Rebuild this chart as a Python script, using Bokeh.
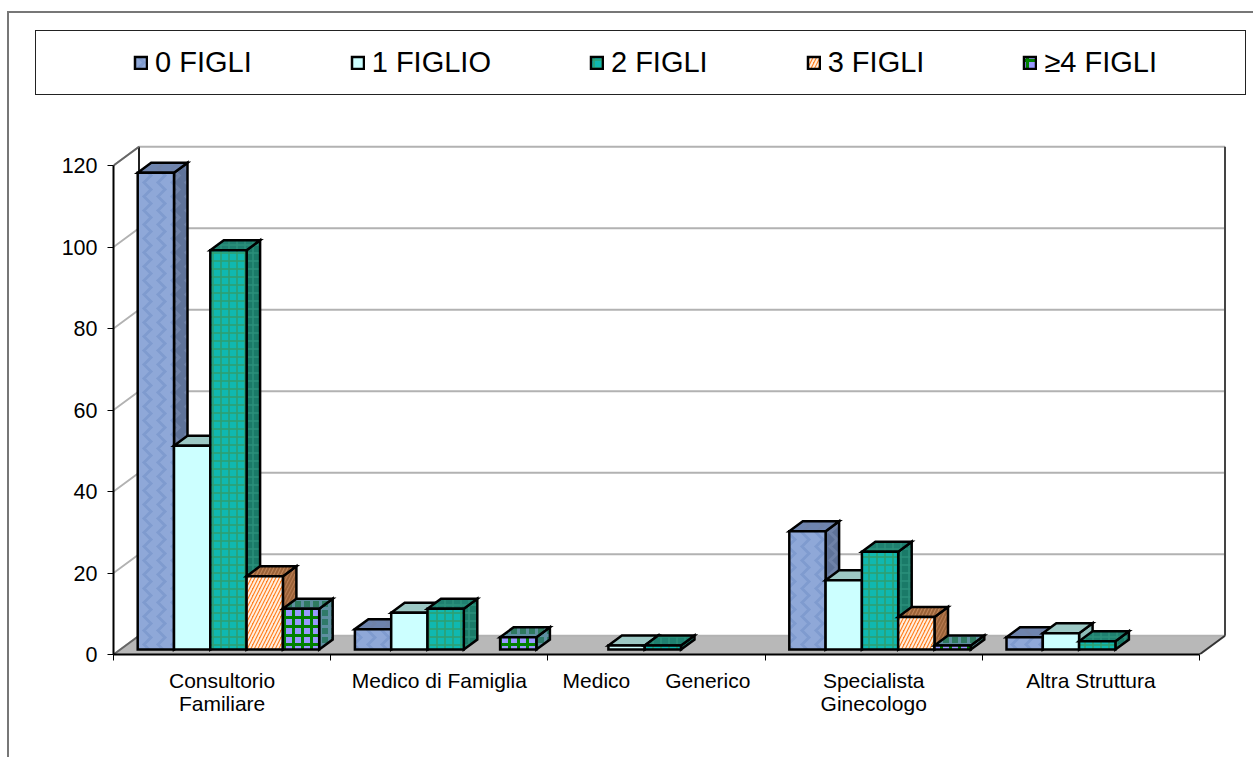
from bokeh.plotting import figure
from bokeh.models import Range1d, FixedTicker, Legend, LegendItem, InlineStyleSheet
from bokeh.embed import file_html
from bokeh.resources import INLINE

categories = ["Consultorio\nFamiliare", "Medico di Famiglia", "Medico\u00a0\u00a0\u00a0\u00a0\u00a0\u00a0Generico", "Specialista\nGinecologo", "Altra Struttura"]
series_names = ["0 FIGLI", "1 FIGLIO", "2 FIGLI", "3 FIGLI", "\u22654 FIGLI"]
figli_0 = [117, 5, 0, 29, 3]
figli_1 = [50, 9, 1, 17, 4]
figli_2 = [98, 10, 1, 24, 2]
figli_3 = [18, 0, 0, 8, 0]
figli_4 = [10, 3, 0, 1, 0]
y_ticks = [0, 20, 40, 60, 80, 100, 120]

all_series = [figli_0, figli_1, figli_2, figli_3, figli_4]
styles = [
    dict(front="#8FA8D8", side="#5F7399", top="#6E84AE", hatch="vertical_wave", hc="#7F9BCF", hs=14, hw=3, shc="#6F82A8"),
    dict(front="#CCFFFF", side="#8FBDB9", top="#9CC8C4", hatch=None, hc=None, hs=None, hw=None, shc=None),
    dict(front="#10B8B0", side="#1A7A68", top="#1F8070", hatch="cross", hc="#2E9E70", hs=8, hw=1.5, shc="#2A8F7A"),
    dict(front="#FF7F20", side="#B87A50", top="#C08558", hatch="right_diagonal_line", hc="#FFEFE0", hs=7, hw=2, shc="#9A6238"),
    dict(front="#9999FF", side="#2F7A68", top="#2F7A60", hatch="cross", hc="#008000", hs=9, hw=3, shc="#5E8FA0"),
]

PX_X = 217.2      # pixels per category
PX_Y = 4.075      # pixels per value unit
DX = 25.5 / PX_X  # wall depth
DY = 18.7 / PX_Y
GAP = 17.7 / PX_X
BW = 36.3 / PX_X
OX = 6.5 / PX_X   # bar front offset from the axis
OY = 5.0 / PX_Y
BDX = 13.5 / PX_X # bar depth
BDY = 10.0 / PX_Y

L, R, T, B = 113, 0, 0, 103
W, H = 1253, 757
p = figure(width=W, height=H, output_backend="svg", toolbar_location=None,
           x_range=Range1d(0, (W - L - R) / PX_X), y_range=Range1d(0, (H - T - B) / PX_Y),
           min_border_left=L, min_border_right=R, min_border_top=T, min_border_bottom=B,
           outline_line_color=None, background_fill_color="white", border_fill_color="white")
p.grid.visible = False

n = len(categories)
# floor
p.patch([0, n, n + DX, DX], [0, 0, DY, DY], fill_color="#B8B8B8", line_color=None)
# grid on the walls
for v in y_ticks:
    p.line([0, DX, n + DX], [v, v + DY, v + DY], line_color="#B2B2B2", line_width=2)
# wall edges
p.line([DX, DX], [DY, y_ticks[-1] + DY], line_color="#222222", line_width=2)
p.line([n + DX, n + DX], [DY, y_ticks[-1] + DY], line_color="#444444", line_width=2)
p.line([0, DX], [0, DY], line_color="#666666", line_width=2)
p.line([0, DX], [y_ticks[-1], y_ticks[-1] + DY], line_color="#666666", line_width=2)
p.line([n, n + DX], [0, DY], line_color="#333333", line_width=2)

legend_items = []
for s, (vals, st, name) in enumerate(zip(all_series, styles, series_names)):
    lefts, rights, tops, bottoms = [], [], [], []
    for c, v in enumerate(vals):
        if v == 0:
            continue
        lefts.append(c + GAP + OX + s * BW)
        rights.append(c + GAP + OX + (s + 1) * BW)
        tops.append(v + OY)
        bottoms.append(OY)
    sx = [[r, r + BDX, r + BDX, r] for r in rights]
    sy = [[b, b + BDY, t + BDY, t] for b, t in zip(bottoms, tops)]
    tx = [[l, l + BDX, r + BDX, r] for l, r in zip(lefts, rights)]
    ty = [[t, t + BDY, t + BDY, t] for t in tops]
    line = dict(line_color="black", line_width=2.5, line_join="miter")
    hatch = {}
    shade = {}
    if st["hatch"]:
        hatch = dict(hatch_pattern=st["hatch"], hatch_color=st["hc"], hatch_scale=st["hs"], hatch_weight=st["hw"])
        shade = dict(hatch, hatch_color=st["shc"])
    p.patches(sx, sy, fill_color=st["side"], **line, **shade)
    p.patches(tx, ty, fill_color=st["top"], **line, **shade)
    r = p.quad(left=lefts, right=rights, top=tops, bottom=bottoms, fill_color=st["front"], **line, **hatch)
    legend_items.append(LegendItem(label=name, renderers=[r]))

# axes
ax = p.yaxis[0]
ax.ticker = FixedTicker(ticks=y_ticks)
ax.bounds = (y_ticks[0], y_ticks[-1])
ax.axis_line_color = "black"; ax.axis_line_width = 2
ax.major_tick_line_color = "black"; ax.major_tick_line_width = 1
ax.major_tick_in = 0; ax.major_tick_out = 6
ax.minor_tick_line_color = None
ax.major_label_text_font = "Liberation Sans"; ax.major_label_text_font_size = "21.5px"
ax.major_label_text_color = "black"; ax.major_label_standoff = 10

cx = [c + 0.5 for c in range(n)]
ax = p.xaxis[0]
ax.ticker = FixedTicker(ticks=cx, minor_ticks=list(range(n + 1)))
ax.bounds = (0, n)
ax.major_label_overrides = dict(zip(cx, categories))
ax.axis_line_color = "black"; ax.axis_line_width = 2
ax.major_tick_line_color = None
ax.major_tick_in = 0; ax.major_tick_out = 0
ax.minor_tick_line_color = "black"; ax.minor_tick_line_width = 1
ax.minor_tick_in = 0; ax.minor_tick_out = 6
ax.major_label_text_font = "Liberation Sans"; ax.major_label_text_font_size = "21px"
ax.major_label_text_line_height = 1.0
ax.major_label_text_color = "black"; ax.major_label_standoff = 8

# outer frame and legend box
p.stylesheets = [InlineStyleSheet(css="""
:host { position: relative; overflow: hidden; }
:host::before { content: ''; position: absolute; left: 7px; top: 11px; width: 1300px; height: 800px;
                border: 2px solid #777777; box-sizing: border-box; pointer-events: none; z-index: 5; }
:host::after  { content: ''; position: absolute; left: 35px; top: 30px; width: 1211px; height: 65px;
                border: 1.5px solid #222222; box-sizing: border-box; pointer-events: none; z-index: 5; }
""")]

legend = Legend(items=legend_items, orientation="horizontal", location=(20, 575), padding=0, margin=0,
                spacing=98, glyph_width=15, glyph_height=15, label_standoff=7,
                label_text_font="Liberation Sans", label_text_font_size="29px", label_text_color="black",
                border_line_color=None, background_fill_alpha=0)
p.add_layout(legend, "center")

open("out.html", "w").write(file_html(p, INLINE))
